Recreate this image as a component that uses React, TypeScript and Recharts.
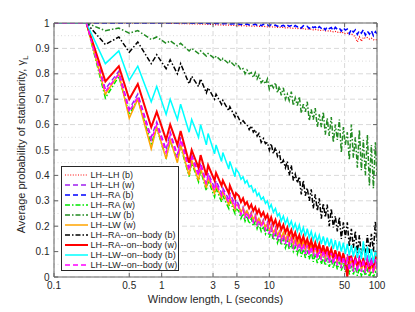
import React from 'react';
import { LineChart, Line, XAxis, YAxis, CartesianGrid, Legend } from 'recharts';

// Window length L (seconds)
const xEarly = [0.1, 0.2, 0.3, 0.4, 0.5, 0.6, 0.8, 0.9, 1.1, 1.2,
  1.4, 1.5, 1.8, 1.9, 2.2, 2.3, 2.6, 2.7, 3.1, 3.2,
  3.6, 3.7, 4.2, 4.3, 4.8, 4.9];
const xLate = [5.2, 5.45, 5.7, 5.95, 6.2, 6.5, 6.8, 7.1, 7.4, 7.7,
  8.0, 8.4, 8.8, 9.2, 9.6, 10, 10.4, 10.9, 11.4, 11.9,
  12.4, 12.9, 13.5, 14.1, 14.7, 15.3, 16, 16.7, 17.4, 18.2,
  19, 19.8, 20.7, 21.6, 22.5, 23.5, 24.5, 25.6, 26.7, 27.9,
  29.1, 30.4, 31.7, 33.1, 34.5, 36, 37.6, 39.3, 41, 42.8,
  44.7, 46.6, 48.7, 50.8, 53, 55.3, 57.8, 60.3, 62.9, 65.7,
  68.6, 71.6, 74.7, 78, 81.4, 85, 88.7, 92.6, 96.6, 100];

// Values in percent
const lhLhB = [100, 100, 100, 100, 100, 100, 100, 100, 100, 99.8,
  99.8, 99.7, 99.7, 99.6, 99.6, 99.5, 99.5, 99.4, 99.4, 99.3,
  99.3, 99.2, 99.2, 99.1, 99.1, 99,
  99, 98.9, 99, 98.9, 98.8, 98.9, 98.8, 98.8, 98.7, 98.8,
  98.7, 98.6, 98.7, 98.6, 98.5, 98.6, 98.4, 98.5, 98.4, 98.3,
  98.4, 98.2, 98.3, 98.1, 98.2, 98, 98.1, 97.9, 98, 97.8,
  97.9, 97.7, 97.8, 97.6, 97.7, 97.5, 97.6, 97.3, 97.5, 97.2,
  97.3, 97, 97.2, 96.9, 97, 96.7, 96.9, 96.5, 96.7, 96.3,
  96.5, 96.1, 96.3, 95.8, 96, 95.5, 95.7, 95.2, 94.5, 92.5,
  94.5, 92.8, 94.4, 94, 94.3, 93.7, 94, 93.4, 93.6, 93.2];

const lhLhW = [100, 100, 74, 81, 66, 72, 55, 61, 50, 57,
  48, 55, 43, 48, 41, 45, 37, 41, 35, 38,
  33, 35, 30.5, 33, 28.5, 30.5,
  28.5, 25.5, 27.5, 24.5, 26.5, 23.5, 25.5, 22.5, 24.5, 21.5,
  23.5, 20.5, 22.5, 19.5, 21.5, 18, 20.5, 17, 19.5, 16,
  18.5, 15, 17.5, 14, 17, 13.5, 16, 12.5, 15, 12,
  14.5, 11, 14, 10, 13.5, 9.5, 13, 9, 12.5, 8,
  12, 7.5, 11.5, 7, 11, 6.5, 10.5, 6, 10, 5.5,
  9.5, 4.5, 9, 4, 9, 3.5, 8.5, 3, 8.5, 3,
  8.5, 3, 8, 2.5, 8.5, 3, 8, 2.5, 8, 4];

const lhRaB = [100, 100, 100, 100, 100, 100, 100, 100, 100, 100,
  100, 100, 100, 99.9, 100, 99.9, 99.9, 99.8, 99.9, 99.8,
  99.8, 99.7, 99.8, 99.6, 99.7, 99.5,
  99.6, 99.3, 99.7, 99.4, 99.6, 99.2, 99.5, 99.3, 99.6, 99.1,
  99.4, 99, 99.5, 99.2, 99.3, 98.8, 99.4, 99, 99.2, 98.7,
  99.3, 98.8, 99.1, 98.5, 99.2, 98.7, 99, 98.3, 99, 98.5,
  98.8, 98, 98.9, 98.4, 98.7, 97.8, 98.8, 98.2, 98.5, 97.6,
  98.6, 97.9, 98.4, 97.3, 98.5, 97.8, 98.2, 97, 98.3, 97.5,
  98, 96.8, 98.1, 97.2, 97.6, 95.8, 97.5, 96.4, 97.3, 95.5,
  97, 96, 97.4, 95.2, 96.8, 95.6, 97, 95, 96.6, 95.8];

const lhRaW = [100, 100, 70.5, 79, 64, 70, 52.5, 58.5, 47, 53.5,
  46, 51.5, 39.5, 45, 37.5, 42, 34, 38, 31.5, 35,
  29.5, 32, 27, 30, 25, 27,
  26, 23, 25, 22, 24, 21, 23, 20, 22, 19,
  21, 18, 20, 17, 19, 15.5, 18, 14.5, 17, 13.5,
  16, 12.5, 15, 11.5, 14, 11, 13, 10, 12, 9,
  12, 8, 11, 7.5, 10.5, 7, 10, 6, 9, 5.5,
  8.5, 5, 8, 4.5, 7.5, 4, 7, 3.5, 6.5, 3,
  6, 2.5, 5.5, 2, 5, 1, 4.5, 1, 4, 0.5,
  3.5, 0.5, 3, 0.5, 3, 0, 2.5, 0, 2, 1];

const lhLwB = [100, 100, 97, 98, 96, 97, 93.5, 94.5, 92, 93,
  91, 92, 89, 90, 88, 89, 87, 88, 86, 87,
  85, 86, 84, 85, 83, 84,
  83, 81.5, 82, 80, 81.5, 80, 80.5, 78.5, 80.5, 78,
  79.5, 76.5, 77.5, 76, 78, 74, 76, 74.5, 76.5, 72.5,
  75, 71.5, 74.5, 70, 72, 69.5, 73, 67.5, 70.5, 67.5,
  71, 64.5, 68, 65, 69, 61.5, 66, 62, 66.5, 59,
  64, 59, 65, 56, 62.5, 55.5, 63, 53, 60, 54,
  62, 49, 59, 52, 57, 46, 60, 47, 55, 43,
  58, 42, 54, 40, 56, 36, 52, 35, 53, 40];

const lhLwW = [100, 100, 72, 80, 62.5, 70, 50.5, 59, 46.5, 54,
  45, 52, 40, 46, 38, 43, 35, 39, 33, 36,
  31, 33.5, 28.5, 31, 26.5, 28.5,
  28, 25.5, 27, 24.5, 26, 23.5, 25, 22.5, 24, 21.5,
  23, 20.5, 22, 19.5, 21, 18.5, 20, 17.5, 19, 16.5,
  18, 15.5, 17.5, 14.5, 16.5, 14, 16, 13, 15, 12.5,
  14.5, 11.5, 14, 11, 13, 10, 12.5, 9.5, 12, 9,
  11, 8, 10.5, 7.5, 10, 7, 9.5, 6.5, 9, 6,
  8.5, 5.5, 8, 5, 7.5, 4.5, 7, 4, 6.5, 3.5,
  6, 3, 5.5, 2.5, 5, 2, 4.5, 2, 4, 3];

const lhRaOnB = [100, 100, 91.5, 94.5, 88.5, 92.5, 84, 87.5, 82, 85.5,
  80, 84, 76, 79, 75, 78, 72.5, 74.5, 70, 72,
  68, 69.5, 65.5, 67, 63, 64.5,
  62.5, 60.5, 61.5, 60.5, 60, 58, 59.5, 57, 58, 55.5,
  56.5, 53, 54.5, 52.5, 53, 50, 52.5, 48.5, 51, 47.5,
  49, 44.5, 46, 43, 45.5, 40, 44, 38, 40.5, 37,
  39.5, 32.5, 38, 32, 35, 30, 34.5, 27, 32.5, 26,
  31, 23, 29, 23.5, 28.5, 20, 27, 19.5, 24, 18,
  23.5, 15, 21.5, 15.5, 21.5, 12, 19, 11.5, 18, 9.5,
  16.5, 8, 13, 8.5, 16.5, 9.5, 17, 10, 22, 13];

const lhRaOnW = [100, 100, 77, 83, 70, 76, 59, 65, 54, 60,
  52, 57.5, 45, 50, 43, 48, 40, 44, 38, 41,
  36, 38, 33, 36, 31, 33,
  32, 29.5, 31, 28.5, 29.5, 27, 28.5, 26, 27.5, 25,
  26.5, 24, 25.5, 23, 24.5, 21.5, 23.5, 20.5, 22.5, 19.5,
  21.5, 18.5, 20.5, 17.5, 19.5, 16.5, 18.5, 15.5, 17.5, 14.5,
  16.5, 13.5, 16, 13, 15, 12, 14.5, 11, 13.5, 10.5,
  13, 9.5, 12.5, 9, 12, 8.5, 11, 7.5, 10.5, 7,
  10, 6, 9.5, 5.5, 0, 8, 8, 5, 7.5, 4.5,
  7, 4, 7.5, 3.5, 7, 3, 6.5, 3.5, 7, 9];

const lhLwOnB = [100, 100, 84, 89, 77.5, 83, 69, 75, 64, 70,
  62, 68, 57, 62, 55, 60, 52, 56.5, 48.5, 52,
  45.5, 49, 42.5, 45.5, 39.5, 42.5,
  41, 38.5, 39.5, 37, 38, 35.5, 36, 33.5, 34.5, 32,
  33, 30.5, 31.5, 29, 30, 27, 28.5, 25.5, 27, 24,
  25, 22, 24, 21, 23, 20, 22, 19, 21, 18,
  20.5, 17, 19.5, 16, 19, 15.5, 18, 14.5, 17, 14,
  16.5, 13, 16, 12.5, 15.5, 12, 15, 11, 14.5, 10.5,
  14, 10, 13.5, 9, 13, 8.5, 12.5, 8, 12, 7.5,
  11.5, 7, 14, 6.5, 12, 6, 11, 5.5, 10.5, 8];

const lhLwOnW = [100, 100, 73, 80, 65, 71, 54, 60, 49, 56,
  47, 54, 42, 47, 40, 44, 36.5, 40, 34, 37,
  32, 34, 29.5, 32, 27.5, 29.5,
  27.5, 24.5, 26.5, 23.5, 25.5, 22.5, 24.5, 21.5, 23.5, 20.5,
  22.5, 19.5, 21.5, 18.5, 20.5, 17, 19.5, 16, 18.5, 15,
  17.5, 14, 16.5, 13, 16, 12.5, 15, 11.5, 14, 11,
  13.5, 10, 13, 9, 12.5, 8.5, 12, 8, 11.5, 7,
  11, 6.5, 10.5, 6, 10, 5.5, 9.5, 5, 9, 4.5,
  8.5, 3.5, 8, 3, 8, 2.5, 7.5, 2, 7.5, 2,
  7.5, 2, 7, 1.5, 7.5, 2, 7, 1.5, 7, 3];

const xTicks = [0.1, 0.5, 1, 3, 5, 10, 50, 100];
const yTicks = [0, 0.1, 0.2, 0.3, 0.4, 0.5, 0.6, 0.7, 0.8, 0.9, 1];
const yMinor = [0.05, 0.15, 0.25, 0.35, 0.45, 0.55, 0.65, 0.75, 0.85, 0.95];

const SERIES = [
  { key: 's1', name: 'LH--LH (b)', values: lhLhB, color: '#ff0000', dash: '1 1.6', width: 1.2 },
  { key: 's2', name: 'LH--LH (w)', values: lhLhW, color: '#a020f0', dash: '5 3', width: 1.5 },
  { key: 's3', name: 'LH--RA (b)', values: lhRaB, color: '#0000ff', dash: '5 3', width: 1.5 },
  { key: 's4', name: 'LH--RA (w)', values: lhRaW, color: '#00e600', dash: '5 2 1.5 2', width: 1.5 },
  { key: 's5', name: 'LH--LW (b)', values: lhLwB, color: '#228b22', dash: '5 2 1.5 2', width: 1.5 },
  { key: 's6', name: 'LH--LW (w)', values: lhLwW, color: '#ffa500', dash: undefined, width: 1.5 },
  { key: 's7', name: 'LH--RA--on--body (b)', values: lhRaOnB, color: '#000000', dash: '5 2 1.5 2', width: 1.5 },
  { key: 's8', name: 'LH--RA--on--body (w)', values: lhRaOnW, color: '#ff0000', dash: undefined, width: 2 },
  { key: 's9', name: 'LH--LW--on--body (b)', values: lhLwOnB, color: '#00ffff', dash: undefined, width: 1.5 },
  { key: 's10', name: 'LH--LW--on--body (w)', values: lhLwOnW, color: '#ff00ff', dash: '5 3', width: 1.5 },
];

const xs = [...xEarly, ...xLate];
const data = xs.map((x, i) => {
  const row: any = { x };
  SERIES.forEach((s) => { row[s.key] = s.values[i] / 100; });
  return row;
});

const FONT = '"Liberation Sans", Arial, Helvetica, sans-serif';
const W = 400;
const H = 300;
// plot area: left 46, right 369, top 15, bottom 269 (in chart coordinates)
const M = { top: 14, right: 30, bottom: 0, left: 0 };
const YAXIS_W = 46;
const XAXIS_H = 31;
const AX = '#666666';
const TXT = '#262626';
const TICK = 4;

const fmt = (v: number) => String(v);

const XTickBottom = (p: any) => (
  <g>
    <line x1={p.x} y1={p.y} x2={p.x} y2={p.y - TICK} stroke={AX} strokeWidth={1} />
    <text x={p.x} y={p.y + 12.3} textAnchor="middle" fontSize={10} fill={TXT} fontFamily={FONT}>{fmt(p.payload.value)}</text>
  </g>
);
const XTickTop = (p: any) => (
  <line x1={p.x} y1={p.y} x2={p.x} y2={p.y + TICK} stroke={AX} strokeWidth={1} />
);
const YTickLeft = (p: any) => (
  <g>
    <line x1={p.x} y1={p.y} x2={p.x + TICK} y2={p.y} stroke={AX} strokeWidth={1} />
    <text x={p.x - 4.5} y={p.y} dy="0.36em" textAnchor="end" fontSize={10} fill={TXT} fontFamily={FONT}>{fmt(p.payload.value)}</text>
  </g>
);
const YTickRight = (p: any) => (
  <line x1={p.x} y1={p.y} x2={p.x - TICK} y2={p.y} stroke={AX} strokeWidth={1} />
);

const renderLegend = () => (
  <div style={{
    width: 118, height: 105, boxSizing: 'border-box', border: '1px solid #262626', background: '#fff',
    paddingTop: 2.5, fontFamily: FONT, fontSize: 9, color: TXT,
  }}>
    {SERIES.map((s) => (
      <div key={s.key} style={{ height: 10.1, position: 'relative', whiteSpace: 'nowrap' }}>
        <svg width={26} height={10} style={{ position: 'absolute', left: 2, top: 0 }}>
          <line x1={1} y1={5} x2={24} y2={5} stroke={s.color} strokeWidth={s.width} strokeDasharray={s.dash} />
        </svg>
        <span style={{ position: 'absolute', left: 28.5, top: 0, lineHeight: '10px' }}>{s.name}</span>
      </div>
    ))}
  </div>
);

export default function App() {
  const plotLeft = M.left + YAXIS_W;
  const plotTop = M.top + 1;
  const plotW = W - plotLeft - M.right - 1;
  const plotH = H - plotTop - M.bottom - XAXIS_H;
  return (
    <div style={{ width: W, height: H }}>
      <LineChart width={W} height={H} data={data} margin={M}>
        <CartesianGrid
          stroke="#d9d9d9" strokeDasharray="1 2.5" vertical={false}
          horizontalCoordinatesGenerator={(props: any) => {
            const off = props.offset || { top: plotTop, height: plotH };
            return yMinor.map((v) => off.top + off.height * (1 - v));
          }}
        />
        <CartesianGrid stroke="#d9d9d9" strokeDasharray="5 3" />
        <XAxis dataKey="x" type="number" scale="log" domain={[0.1, 100]} allowDataOverflow ticks={xTicks}
          interval={0} height={XAXIS_H} tickSize={0} tickMargin={0} tickLine={false}
          axisLine={{ stroke: AX }} tick={<XTickBottom />} />
        <XAxis xAxisId="top" orientation="top" dataKey="x" type="number" scale="log" domain={[0.1, 100]} allowDataOverflow
          ticks={xTicks} interval={0} height={1} tickSize={0} tickMargin={0} tickLine={false}
          axisLine={{ stroke: AX }} tick={<XTickTop />} />
        <YAxis type="number" domain={[0, 1]} allowDataOverflow ticks={yTicks} interval={0} width={YAXIS_W}
          tickSize={0} tickMargin={0} tickLine={false} axisLine={{ stroke: AX }} tick={<YTickLeft />} />
        <YAxis yAxisId="right" orientation="right" type="number" domain={[0, 1]} allowDataOverflow ticks={yTicks}
          interval={0} width={1} tickSize={0} tickMargin={0} tickLine={false} axisLine={{ stroke: AX }} tick={<YTickRight />} />
        {SERIES.map((s) => (
          <Line key={s.key} dataKey={s.key} name={s.name} type="linear" stroke={s.color} strokeWidth={s.width}
            strokeDasharray={s.dash} dot={false} activeDot={false} isAnimationActive={false} />
        ))}
        <Legend content={renderLegend} layout="vertical" align="center" verticalAlign="middle"
          wrapperStyle={{ left: 53, top: 158, width: 118, height: 105, position: 'absolute' }} />
        <text x={plotLeft + plotW / 2} y={plotTop + plotH + 26} textAnchor="middle" fontSize={11} fill={TXT} fontFamily={FONT}>
          Window length, L (seconds)
        </text>
        <text x={plotLeft - 29.3} y={plotTop + plotH / 2 - 5.5} textAnchor="middle" fontSize={11} fill={TXT} fontFamily={FONT}
          transform={`rotate(-90 ${plotLeft - 29.3} ${plotTop + plotH / 2 - 5.5})`}>
          Average probability of stationarity, γ<tspan fontSize={8} dy={3}>L</tspan>
        </text>
      </LineChart>
    </div>
  );
}
